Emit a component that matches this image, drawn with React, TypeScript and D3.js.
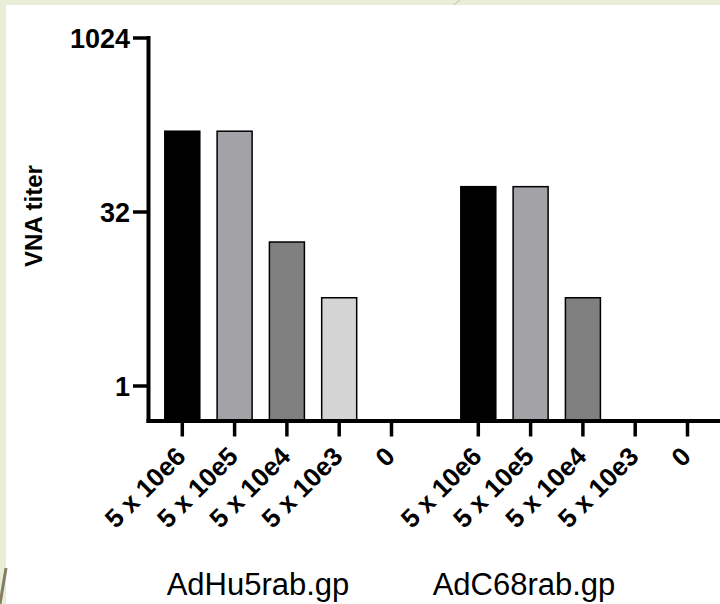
import React, { useEffect, useRef } from "react";
import * as d3 from "d3";

const doses = ["5 x 10e6", "5 x 10e5", "5 x 10e4", "5 x 10e3", "0"];
const vectors = ["AdHu5rab.gp", "AdC68rab.gp"];
const adhu5Titers = [160, 160, 17.6, 5.8, 0];
const adc68Titers = [53, 53, 5.8, 0, 0];
const yTicks = [1, 32, 1024];
const doseColors = ["#000000", "#a3a2a7", "#808080", "#d4d4d4", "#ffffff"];

const App = () => {
  const ref = useRef<SVGSVGElement | null>(null);

  useEffect(() => {
    const svg = d3.select(ref.current);
    svg.selectAll("*").remove();

    const width = 720;
    const height = 604;
    const font = "'Liberation Sans', Arial, sans-serif";

    // slide background
    svg.append("rect").attr("width", width).attr("height", height).attr("fill", "#e9eed8");
    svg.append("line").attr("x1", 452).attr("y1", 6).attr("x2", 460).attr("y2", 0)
      .attr("stroke", "#cfd3bb").attr("stroke-width", 1.5);
    svg.append("rect").attr("x", 6).attr("y", 5).attr("width", width - 6).attr("height", height - 5).attr("fill", "#fff");
    svg.append("line").attr("x1", 0).attr("y1", 604).attr("x2", 6).attr("y2", 568)
      .attr("stroke", "#857f62").attr("stroke-width", 3);

    const groupGap = 0.66;
    const slot = (g: number, i: number) => g * (doses.length + groupGap) + i;
    const x = d3.scaleLinear().domain([0, slot(1, 4)]).range([182.3, 687.5]);
    const y = d3.scaleLog().base(2).domain([0.5, 1024]).range([420.8, 38]);

    const axisX = 148.5;
    const axisY = 421;
    const barW = 35;

    const series = [adhu5Titers, adc68Titers];
    const bars = series.flatMap((vals, g) =>
      vals.map((v, i) => ({ g, i, v }))
    );

    svg.append("g")
      .selectAll("rect")
      .data(bars.filter((d) => d.v > 0.5))
      .join("rect")
      .attr("x", (d) => x(slot(d.g, d.i)) - barW / 2)
      .attr("y", (d) => y(d.v))
      .attr("width", barW)
      .attr("height", (d) => y(0.5) - y(d.v))
      .attr("fill", (d) => doseColors[d.i])
      .attr("stroke", "#000")
      .attr("stroke-width", 1.5);

    // y axis
    svg.append("line").attr("x1", axisX).attr("x2", axisX).attr("y1", y(1024) - 2).attr("y2", axisY + 2)
      .attr("stroke", "#000").attr("stroke-width", 4);
    const yt = svg.append("g").selectAll("g").data(yTicks).join("g")
      .attr("transform", (d) => `translate(0,${y(d)})`);
    yt.append("line").attr("x1", 133).attr("x2", axisX).attr("stroke", "#000").attr("stroke-width", 3.5);
    yt.append("text")
      .attr("x", 130)
      .attr("dy", "0.36em")
      .attr("text-anchor", "end")
      .style("font-family", font)
      .style("font-size", "27px")
      .style("font-weight", "bold")
      .text((d) => d);

    // x axis
    svg.append("line").attr("x1", axisX - 2).attr("x2", width).attr("y1", axisY).attr("y2", axisY)
      .attr("stroke", "#000").attr("stroke-width", 4);
    const xt = svg.append("g").selectAll("g").data(bars).join("g")
      .attr("transform", (d) => `translate(${x(slot(d.g, d.i))},0)`);
    xt.append("line").attr("y1", axisY).attr("y2", 436.5).attr("stroke", "#000").attr("stroke-width", 3.5);
    xt.append("text")
      .attr("transform", "translate(5,458) rotate(-45)")
      .attr("text-anchor", "end")
      .style("font-family", font)
      .style("font-size", "26px")
      .style("font-weight", "bold")
      .text((d) => doses[d.i]);

    // group labels
    const groupLabelX = [258, 524];
    svg.append("g").selectAll("text").data(vectors).join("text")
      .attr("x", (d, i) => groupLabelX[i])
      .attr("y", 595)
      .attr("text-anchor", "middle")
      .style("font-family", font)
      .style("font-size", "31px")
      .text((d) => d);

    svg.append("text")
      .attr("transform", "translate(42,216) rotate(-90)")
      .attr("text-anchor", "middle")
      .style("font-family", font)
      .style("font-size", "24px")
      .style("font-weight", "bold")
      .text("VNA titer");
  }, []);

  return (
    <svg
      ref={ref}
      width={720}
      height={604}
      style={{ position: "absolute", left: 0, top: 0 }}
    />
  );
};

export default App;
